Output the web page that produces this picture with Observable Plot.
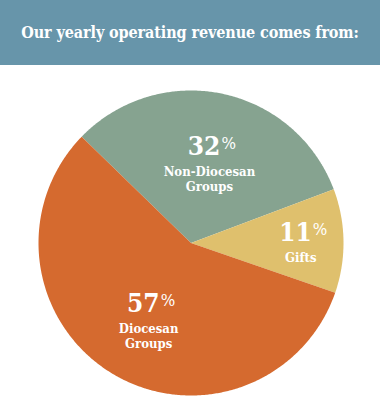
<!DOCTYPE html>
<html><head><meta charset="utf-8">
<script src="https://cdn.jsdelivr.net/npm/d3@7"></script>
<script src="https://cdn.jsdelivr.net/npm/@observablehq/plot@0.6"></script>
<style>
html,body{margin:0;padding:0;background:#fff;width:380px;overflow:hidden}
#title{height:65px;background:#6795aa;color:#fff;font-family:"DejaVu Serif Condensed","DejaVu Serif",serif;font-weight:bold;font-size:16px;letter-spacing:-0.1px;display:flex;align-items:center;justify-content:center;padding-bottom:1px;box-sizing:border-box}
#chart svg{display:block}
</style></head><body>
<div id="title">Our yearly operating revenue comes from:</div>
<div id="chart"></div>
<script>
const categories = ["Non-Diocesan Groups", "Gifts", "Diocesan Groups"];
const labelLines = ["Non-Diocesan\nGroups", "Gifts", "Diocesan\nGroups"];
const shares = [32, 11, 57];
const colors = ["#86a390", "#dfc06d", "#d56a2f"];

// layout constants (not data)
const startDeg = 314.2;
const labelRadius = {"Non-Diocesan Groups": 0.59, "Gifts": 0.72, "Diocesan Groups": 0.53};

const total = d3.sum(shares);
let acc = startDeg * Math.PI / 180;
const slices = shares.map((v, i) => {
  const a0 = acc, a1 = acc + v / total * 2 * Math.PI;
  acc = a1;
  return {cat: categories[i], v, a0, a1, lines: labelLines[i]};
});
const pts = [];
for (const s of slices) {
  pts.push({cat: s.cat, x: 0, y: 0});
  const n = Math.ceil((s.a1 - s.a0) / (Math.PI / 360));
  for (let k = 0; k <= n; k++) {
    const t = s.a0 + (s.a1 - s.a0) * k / n;
    pts.push({cat: s.cat, x: Math.sin(t), y: Math.cos(t)});
  }
  pts.push({cat: s.cat, x: 0, y: 0});
}
const lab = slices.map(s => {
  const m = (s.a0 + s.a1) / 2, r = labelRadius[s.cat];
  return {...s, x: r * Math.sin(m), y: r * Math.cos(m)};
});

const font = '"DejaVu Serif Condensed","DejaVu Serif",serif';
const chart = Plot.plot({
  width: 380, height: 335,
  marginLeft: 38, marginRight: 37, marginTop: 25, marginBottom: 5,
  x: {domain: [-1, 1], axis: null},
  y: {domain: [-1, 1], axis: null},
  color: {domain: categories, range: colors},
  style: {fontFamily: font, background: "white"},
  marks: [
    Plot.line(pts, {x: "x", y: "y", z: "cat", fill: "cat", stroke: null, curve: "linear"}),
    Plot.text(lab, {x: "x", y: "y", text: d => String(d.v), textAnchor: "end", lineAnchor: "bottom", dx: 11, fontSize: 26, fontWeight: "bold", fill: "white"}),
    Plot.text(lab, {x: "x", y: "y", text: () => "%", textAnchor: "start", lineAnchor: "bottom", dx: 12, dy: -6, fontSize: 17, fill: "white"}),
    Plot.text(lab, {x: "x", y: "y", text: "lines", lineAnchor: "top", dy: 10, lineHeight: 1.17, fontSize: 13, fontWeight: "bold", fill: "white"})
  ]
});
document.getElementById("chart").appendChild(chart);
</script>
</body></html>
